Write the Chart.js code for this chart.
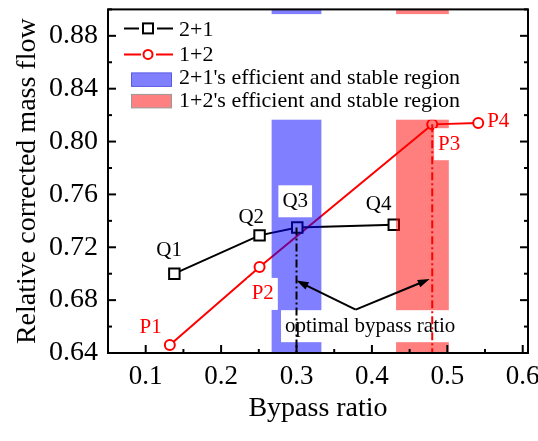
<!DOCTYPE html>
<html>
<head>
<meta charset="utf-8">
<script src="https://cdn.jsdelivr.net/npm/chart.js@4.4.0/dist/chart.umd.min.js"></script>
<style>html,body{margin:0;padding:0;background:#fff}</style>
</head>
<body>
<canvas id="c" width="538" height="441"></canvas>
<script>
const bypass21 = [0.138, 0.251, 0.301, 0.429];
const flow21 = [0.700, 0.729, 0.735, 0.737];
const bypass12 = [0.132, 0.251, 0.480, 0.541];
const flow12 = [0.646, 0.705, 0.813, 0.814];
const names21 = ['Q1', 'Q2', 'Q3', 'Q4'];
const names12 = ['P1', 'P2', 'P3', 'P4'];
const xTicks = [0.1, 0.2, 0.3, 0.4, 0.5, 0.6];
const yTicks = [0.64, 0.68, 0.72, 0.76, 0.80, 0.84, 0.88];
const region21 = [0.267, 0.333];
const region12 = [0.432, 0.502];
const optimal21 = 0.30;
const optimal12 = 0.48;

// annotation spots, in data units
const nameSpots21 = [[0.131, 0.7173], [0.240, 0.7428], [0.2983, 0.7548], [0.409, 0.7526]];
const nameSpots12 = [[0.1066, 0.6595], [0.2552, 0.6847], [0.5025, 0.798], [0.5675, 0.8149]];
const boxed = ['Q3', 'P2', 'P3'];
const noteSpot = [0.3977, 0.6603];
const arrowFrom = [0.3785, 0.6728];
const arrowTo = [[0.30, 0.6948], [0.4767, 0.696]];

const serif = '"Liberation Serif", "Times New Roman", serif';
const font = px => px + 'px ' + serif;

function arrow(ctx, x0, y0, x1, y1) {
  const a = Math.atan2(y1 - y0, x1 - x0), c = Math.cos(a), s = Math.sin(a);
  const len = 12, half = 4;
  ctx.beginPath();
  ctx.moveTo(x0, y0);
  ctx.lineTo(x1 - len * 0.7 * c, y1 - len * 0.7 * s);
  ctx.stroke();
  ctx.beginPath();
  ctx.moveTo(x1, y1);
  ctx.lineTo(x1 - len * c + half * s, y1 - len * s - half * c);
  ctx.lineTo(x1 - len * c - half * s, y1 - len * s + half * c);
  ctx.closePath();
  ctx.fill();
}

const extras = {
  id: 'extras',
  afterDatasetsDraw(chart) {
    const {ctx, chartArea: a, scales: {x, y}} = chart;
    ctx.save();
    ctx.beginPath();
    ctx.rect(a.left, a.top, a.right - a.left, a.bottom - a.top);
    ctx.clip();

    // shaded regions sit over the lines
    [[region21, 'rgba(0,0,255,0.5)'], [region12, 'rgba(255,0,0,0.5)']].forEach(([r, col]) => {
      const x0 = x.getPixelForValue(r[0]), x1 = x.getPixelForValue(r[1]);
      ctx.fillStyle = col;
      ctx.fillRect(x0, a.top, x1 - x0, a.bottom - a.top);
    });

    // legend background
    ctx.fillStyle = '#fff';
    ctx.fillRect(a.left, a.top + 4.7, 362, 105.6);

    // point names
    ctx.font = font(21);
    ctx.textAlign = 'center';
    ctx.textBaseline = 'middle';
    const label = (text, vx, vy, color, box) => {
      const px = x.getPixelForValue(vx), py = y.getPixelForValue(vy);
      if (box) {
        const w = ctx.measureText(text).width;
        ctx.fillStyle = '#fff';
        ctx.fillRect(px - w / 2 - 4, py - 16, w + 8, 32);
      }
      ctx.fillStyle = color;
      ctx.fillText(text, px, py);
    };
    names21.forEach((n, i) => label(n, nameSpots21[i][0], nameSpots21[i][1], '#000', boxed.includes(n)));
    names12.forEach((n, i) => label(n, nameSpots12[i][0], nameSpots12[i][1], '#f00', boxed.includes(n)));
    label('optimal bypass ratio', noteSpot[0], noteSpot[1], '#000', true);

    // optimal bypass ratio lines
    ctx.lineWidth = 2;
    ctx.setLineDash([8, 3, 2, 3]);
    [[optimal21, flow21[2], '#000'], [optimal12, flow12[2], '#f00']].forEach(([vx, vy, col]) => {
      const px = x.getPixelForValue(vx);
      ctx.strokeStyle = col;
      ctx.beginPath();
      ctx.moveTo(px, y.getPixelForValue(vy));
      ctx.lineTo(px, a.bottom);
      ctx.stroke();
    });
    ctx.setLineDash([]);

    // arrows
    ctx.strokeStyle = '#000';
    ctx.fillStyle = '#000';
    ctx.lineWidth = 2;
    const fx = x.getPixelForValue(arrowFrom[0]), fy = y.getPixelForValue(arrowFrom[1]);
    arrowTo.forEach(t => arrow(ctx, fx, fy, x.getPixelForValue(t[0]), y.getPixelForValue(t[1])));
    ctx.restore();

    // legend
    ctx.save();
    const lx = a.left, ly = a.top;
    ctx.lineWidth = 2;
    ctx.strokeStyle = '#000';
    ctx.beginPath();
    ctx.moveTo(lx + 16, ly + 19); ctx.lineTo(lx + 31, ly + 19);
    ctx.moveTo(lx + 49, ly + 19); ctx.lineTo(lx + 65, ly + 19);
    ctx.stroke();
    ctx.fillStyle = '#fff';
    ctx.fillRect(lx + 35, ly + 14, 10, 10);
    ctx.strokeRect(lx + 35, ly + 14, 10, 10);
    ctx.strokeStyle = '#f00';
    ctx.beginPath();
    ctx.moveTo(lx + 16, ly + 45); ctx.lineTo(lx + 33, ly + 45);
    ctx.moveTo(lx + 48, ly + 45); ctx.lineTo(lx + 65, ly + 45);
    ctx.stroke();
    ctx.beginPath(); ctx.arc(lx + 40, ly + 45, 4.5, 0, Math.PI * 2);
    ctx.fill(); ctx.stroke();
    ctx.lineWidth = 1;
    ctx.fillStyle = 'rgb(128,128,255)'; ctx.strokeStyle = '#5a5ae6';
    ctx.fillRect(lx + 23.5, ly + 63.5, 40, 13.5); ctx.strokeRect(lx + 23.5, ly + 63.5, 40, 13.5);
    ctx.fillStyle = 'rgb(255,128,128)'; ctx.strokeStyle = '#999';
    ctx.fillRect(lx + 23.5, ly + 85, 40, 13.5); ctx.strokeRect(lx + 23.5, ly + 85, 40, 13.5);
    ctx.fillStyle = '#000';
    ctx.font = font(22);
    ctx.textAlign = 'left';
    ctx.textBaseline = 'middle';
    ctx.fillText('2+1', lx + 71, ly + 20.5);
    ctx.fillText('1+2', lx + 71, ly + 45.5);
    ctx.fillText("2+1's efficient and stable region", lx + 71, ly + 69);
    ctx.fillText("1+2's efficient and stable region", lx + 71, ly + 91.5);
    ctx.restore();

    // frame and inward ticks
    ctx.save();
    ctx.strokeStyle = '#000';
    ctx.lineWidth = 2;
    for (let i = 0; i < xTicks.length; i++) {
      const px = x.getPixelForValue(xTicks[i]);
      ctx.beginPath(); ctx.moveTo(px, a.bottom); ctx.lineTo(px, a.bottom - 8); ctx.stroke();
      const mx = x.getPixelForValue(xTicks[i] - 0.05);
      ctx.beginPath(); ctx.moveTo(mx, a.bottom); ctx.lineTo(mx, a.bottom - 4); ctx.stroke();
    }
    for (let i = 0; i < yTicks.length; i++) {
      [[yTicks[i], 8], [yTicks[i] + 0.02, 4]].forEach(([v, len]) => {
        const py = y.getPixelForValue(v);
        ctx.beginPath(); ctx.moveTo(a.left, py); ctx.lineTo(a.left + len, py); ctx.stroke();
        ctx.beginPath(); ctx.moveTo(a.right, py); ctx.lineTo(a.right - len, py); ctx.stroke();
      });
    }
    ctx.strokeRect(a.left, a.top, a.right - a.left, a.bottom - a.top);
    ctx.restore();
  }
};

new Chart(document.getElementById('c'), {
  type: 'line',
  data: {
    datasets: [
      {
        label: '2+1',
        data: bypass21.map((v, i) => ({x: v, y: flow21[i]})),
        borderColor: '#000',
        borderWidth: 2,
        pointStyle: 'rect',
        pointRadius: 7.4,
        pointBorderWidth: 2,
        pointBackgroundColor: '#fff',
        pointBorderColor: '#000'
      },
      {
        label: '1+2',
        data: bypass12.map((v, i) => ({x: v, y: flow12[i]})),
        borderColor: '#f00',
        borderWidth: 2,
        pointStyle: 'circle',
        pointRadius: 5,
        pointBorderWidth: 2,
        pointBackgroundColor: '#fff',
        pointBorderColor: '#f00'
      }
    ]
  },
  options: {
    responsive: false,
    animation: false,
    layout: {padding: {top: 7, right: 10, left: 0, bottom: 0}},
    plugins: {legend: {display: false}, tooltip: {enabled: false}},
    scales: {
      x: {
        type: 'linear',
        min: 0.05,
        max: 0.607,
        afterBuildTicks: s => { s.ticks = xTicks.map(v => ({value: v})); },
        afterFit: s => { s.height = 88; s.paddingLeft = 0; s.paddingRight = 0; },
        grid: {display: false, drawTicks: false},
        border: {display: false},
        ticks: {color: '#000', font: {family: serif, size: 27}, padding: 8, maxRotation: 0, callback: v => v.toFixed(1)},
        title: {display: true, text: 'Bypass ratio', color: '#000', font: {family: serif, size: 28}, padding: {top: 0, bottom: 15.7}}
      },
      y: {
        min: 0.64,
        max: 0.90,
        afterBuildTicks: s => { s.ticks = yTicks.map(v => ({value: v})); },
        afterFit: s => { s.width = 108; s.paddingTop = 0; s.paddingBottom = 0; },
        grid: {display: false, drawTicks: false},
        border: {display: false},
        ticks: {color: '#000', font: {family: serif, size: 28}, padding: 10, callback: v => v.toFixed(2)},
        title: {display: true, text: 'Relative corrected mass flow', color: '#000', font: {family: serif, size: 28}, padding: {top: 10.4, bottom: 0}}
      }
    }
  },
  plugins: [extras]
});
</script>
</body>
</html>
